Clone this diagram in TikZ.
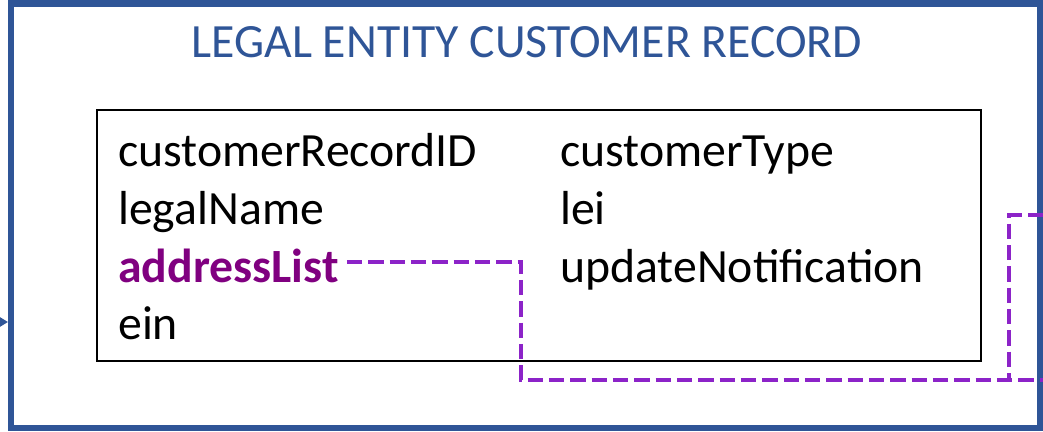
\documentclass[tikz,border=0pt]{standalone}
\usepackage{fontspec}
\setmainfont{Carlito}
\usetikzlibrary{arrows.meta}
\definecolor{frameblue}{RGB}{47,85,151}
\definecolor{linkpurple}{RGB}{140,35,200}
\definecolor{fieldpurple}{RGB}{128,0,128}
\tikzset{
  field/.style={anchor=base west, inner sep=0pt, font=\fontsize{35.8}{42}\selectfont},
  linkline/.style={linkpurple, line width=3.6pt, dash pattern=on 11.5pt off 4.5pt},
}
\begin{document}
\begin{tikzpicture}[x=0.75pt,y=-0.75pt]
\clip (0,0) rectangle (1043,432);
\useasboundingbox (0,0) rectangle (1043,432);
\node[draw=frameblue, line width=4.5pt, minimum width=1029*0.75pt, minimum height=424*0.75pt, inner sep=0pt] (outer) at (525.5,215.5) {};
\node[text=frameblue, font=\fontsize{35.8}{42}\selectfont, anchor=base] (title) at (527,57) {LEGAL ENTITY CUSTOMER RECORD};
\node[draw=black, line width=1.7pt, minimum width=884*0.75pt, minimum height=251*0.75pt, inner sep=0pt] (inner) at (539,235.5) {};
\node[field] (f1) at (118,166) {customerRecordID};
\node[field] (f2) at (118,224) {legalName};
\node[field, text=fieldpurple, font=\fontsize{35.8}{42}\selectfont\bfseries] (f3) at (118,282) {addressList};
\node[field] (f4) at (118,339) {ein};
\node[field] (g1) at (560,166) {customerType};
\node[field] (g2) at (560,224) {lei};
\node[field] (g3) at (560,282) {updateNotification};
\coordinate (inarrow) at (-20,322);
\draw[frameblue, line width=2pt, -{Triangle[length=7pt,width=8pt]}] (inarrow) -- (outer.west |- inarrow);
\coordinate (linkstart) at ([xshift=6pt]f3.east |- 0,262);
\coordinate (linkend) at (outer.east |- 0,380);
\coordinate (link2start) at (outer.east |- 0,215);
\draw[linkline] (linkstart) -| (521,380) -- (linkend);
\draw[linkline] (link2start) -| (1009,380);
\end{tikzpicture}
\end{document}
